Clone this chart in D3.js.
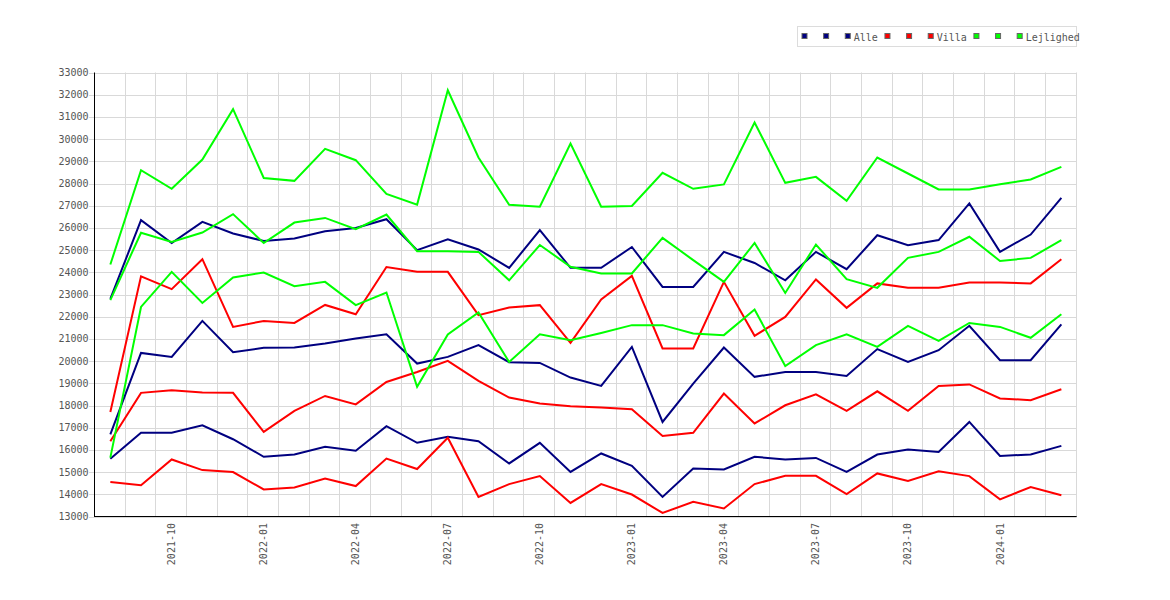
<!DOCTYPE html>
<html>
<head>
<meta charset="utf-8">
<script src="https://cdn.jsdelivr.net/npm/d3@7"></script>
<style>
html,body{margin:0;padding:0;background:#fff;}
svg{display:block;}
text{font-family:"DejaVu Sans Mono",monospace;font-size:10px;fill:#555;}
</style>
</head>
<body>
<svg id="chart" width="1170" height="600"></svg>
<script>
const months = ["2021-08","2021-09","2021-10","2021-11","2021-12","2022-01","2022-02","2022-03","2022-04","2022-05","2022-06","2022-07","2022-08","2022-09","2022-10","2022-11","2022-12","2023-01","2023-02","2023-03","2023-04","2023-05","2023-06","2023-07","2023-08","2023-09","2023-10","2023-11","2023-12","2024-01","2024-02","2024-03"];
const xTickLabels = ["2021-10","2022-01","2022-04","2022-07","2022-10","2023-01","2023-04","2023-07","2023-10","2024-01"];
const yTicks = [13000,14000,15000,16000,17000,18000,19000,20000,21000,22000,23000,24000,25000,26000,27000,28000,29000,30000,31000,32000,33000];

const alleHigh = [22800,26350,25320,26270,25750,25410,25520,25850,26000,26390,25000,25490,25030,24200,25900,24200,24200,25140,23340,23340,24920,24420,23640,24920,24140,25670,25220,25450,27100,24920,25700,27350];
const alleMid  = [16700,20370,20190,21810,20400,20600,20610,20790,21020,21210,19890,20190,20720,19950,19920,19260,18880,20640,17260,18990,20610,19290,19510,19510,19330,20540,19960,20490,21590,20040,20040,21650];
const alleLow  = [15600,16770,16770,17110,16480,15690,15790,16140,15960,17070,16320,16590,16390,15390,16320,15010,15840,15280,13880,15160,15120,15690,15570,15640,15010,15790,16020,15910,17260,15730,15790,16180];

const villaHigh = [17710,23820,23240,24590,21540,21810,21720,22530,22110,24240,24020,24020,22070,22410,22520,20820,22780,23840,20570,20570,23570,21140,21990,23680,22400,23500,23300,23300,23540,23540,23500,24590];
const villaMid  = [16390,18570,18690,18590,18570,16810,17760,18430,18050,19060,19510,20010,19110,18360,18090,17970,17910,17830,16630,16770,18540,17190,18010,18500,17760,18640,17760,18880,18950,18320,18240,18730];
const villaLow  = [14550,14410,15570,15090,15000,14220,14310,14710,14370,15610,15140,16550,13880,14460,14820,13610,14460,13990,13160,13660,13360,14460,14830,14830,14010,14940,14600,15040,14820,13770,14330,13960];

const lejHigh = [24350,28600,27760,29080,31350,28250,28120,29560,29050,27530,27050,32200,29170,27040,26950,29800,26950,26990,28480,27760,27960,30750,28030,28300,27220,29170,28450,27730,27730,27970,28180,28750];
const lejMid  = [22750,25780,25370,25790,26620,25320,26240,26450,25940,26600,24950,24950,24920,23640,25230,24250,23950,23950,25550,24550,23570,25320,23070,25250,23690,23300,24650,24920,25600,24510,24650,25450];
const lejLow  = [15650,22440,24020,22620,23770,23990,23370,23570,22520,23090,18840,21200,22190,19960,21210,20940,21270,21620,21620,21240,21170,22320,19780,20720,21210,20640,21590,20910,21720,21540,21050,22110];

const seriesNames = ["", "", "Alle", "", "", "Villa", "", "", "Lejlighed"];
const seriesColors = ["#000080","#000080","#000080","#ff0000","#ff0000","#ff0000","#00ff00","#00ff00","#00ff00"];
const seriesData = [alleHigh, alleMid, alleLow, villaHigh, villaMid, villaLow, lejHigh, lejMid, lejLow];

const svg = d3.select("#chart");
const plotLeft = 95, plotRight = 1076.7, plotTop = 72.5, plotBottom = 516.5;

const x = d3.scaleBand().domain(months).range([plotLeft, plotRight]).paddingInner(0).paddingOuter(0);
const xc = m => x(m) + x.bandwidth() / 2;
const y = d3.scaleLinear().domain([13000, 33000]).range([plotBottom, plotTop]);

const grid = svg.append("g");
grid.selectAll("line.h").data(yTicks).enter().append("line")
  .attr("x1", plotLeft - 6).attr("x2", plotRight)
  .attr("y1", d => Math.round(y(d)) + 0.5).attr("y2", d => Math.round(y(d)) + 0.5)
  .attr("stroke", "#d9d9d9").attr("stroke-width", 1);
const vPos = months.slice(1).map(m => x(m)).concat([plotRight]);
grid.selectAll("line.v").data(vPos).enter().append("line")
  .attr("x1", d => Math.round(d) - 0.5).attr("x2", d => Math.round(d) - 0.5)
  .attr("y1", plotTop).attr("y2", plotBottom)
  .attr("stroke", "#d9d9d9").attr("stroke-width", 1);

svg.append("g").selectAll("text").data(yTicks).enter().append("text")
  .attr("x", 88.5).attr("y", d => y(d)).attr("dy", "0.35em")
  .attr("text-anchor", "end").text(d => d);

svg.append("g").selectAll("text").data(xTickLabels).enter().append("text")
  .attr("transform", d => `translate(${xc(d)},523) rotate(-90)`)
  .attr("dy", "0.35em").attr("text-anchor", "end").text(d => d);

const line = d3.line().x((d, i) => xc(months[i])).y(d => y(d));
svg.append("g").selectAll("path").data(seriesData).enter().append("path")
  .attr("d", d => line(d)).attr("fill", "none")
  .attr("stroke", (d, i) => seriesColors[i]).attr("stroke-width", 2)
  .attr("stroke-linejoin", "miter");

svg.append("line").attr("x1", 94.5).attr("x2", 94.5).attr("y1", plotTop).attr("y2", plotBottom + 0.5).attr("stroke", "#000");
svg.append("line").attr("x1", 94.5).attr("x2", plotRight).attr("y1", plotBottom).attr("y2", plotBottom).attr("stroke", "#000");

const lg = svg.append("g");
lg.append("rect").attr("x", 797.5).attr("y", 26.5).attr("width", 279).attr("height", 20)
  .attr("fill", "#fff").attr("stroke", "#dcdcdc");
let cursor = 801.5;
seriesNames.forEach((name, i) => {
  lg.append("rect").attr("x", cursor + 0.5).attr("y", 33.5).attr("width", 5).attr("height", 5)
    .attr("fill", seriesColors[i]).attr("stroke", "#666").attr("stroke-width", 1);
  const t = lg.append("text").attr("x", cursor + 9).attr("y", 40.5).text(name === "" ? "\u00a0" : name);
  const w = t.node().getComputedTextLength();
  cursor += 6 + 3 + w + 6.6;
});
</script>
</body>
</html>
